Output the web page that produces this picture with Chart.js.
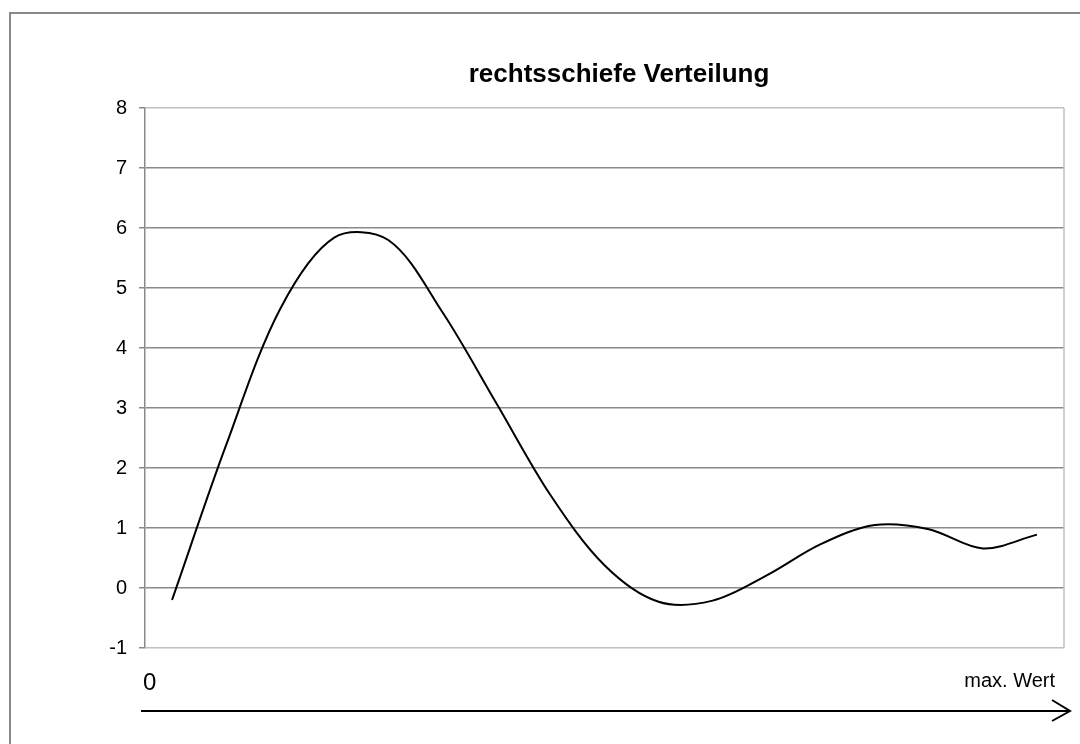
<!DOCTYPE html>
<html lang="de">
<head>
    <meta charset="UTF-8">
    <title>rechtsschiefe Verteilung</title>
    <script src="https://cdn.jsdelivr.net/npm/chart.js"></script>
    <style>
        html, body { margin: 0; padding: 0; background: #fff; overflow: hidden; }
        #rahmen {
            position: absolute; left: 9px; top: 12px;
            width: 2000px; height: 2000px;
            border-left: 2px solid #888; border-top: 2px solid #888;
        }
        #diagramm { position: absolute; left: 0; top: 0; }
    </style>
</head>
<body>

    <div id="rahmen"></div>
    <canvas id="diagramm" width="1080" height="744"></canvas>

    <script>
        // Daten
        const titel = 'rechtsschiefe Verteilung';
        const kategorien = ['1', '2', '3', '4', '5', '6', '7', '8', '9', '10', '11', '12', '13', '14', '15', '16', '17'];
        const werte = [-0.2, 2.38, 4.65, 5.84, 5.8, 4.6, 3.08, 1.55, 0.38, -0.23, -0.21, 0.21, 0.73, 1.05, 0.98, 0.66, 0.89];
        const yMin = -1;
        const yMax = 8;
        const ySchritt = 1;
        const achseStart = '0';
        const achseEnde = 'max. Wert';

        const schrift = '"Liberation Sans", Arial, sans-serif';

        // Titel, Rahmen rechts und Pfeil unter dem Diagramm
        const beschriftung = {
            id: 'beschriftung',
            afterDraw(chart) {
                const ctx = chart.ctx;
                const a = chart.chartArea;
                ctx.save();

                // rechter Rand der Zeichenfläche
                ctx.strokeStyle = '#c0c0c0';
                ctx.lineWidth = 1.5;
                ctx.beginPath();
                ctx.moveTo(a.right, a.top);
                ctx.lineTo(a.right, a.bottom);
                ctx.stroke();

                // Titel
                ctx.fillStyle = '#000';
                ctx.font = 'bold 26px ' + schrift;
                ctx.textAlign = 'center';
                ctx.textBaseline = 'alphabetic';
                ctx.fillText(titel, 619, 82);

                // "0" und "max. Wert"
                ctx.font = '24px ' + schrift;
                ctx.textAlign = 'left';
                ctx.fillText(achseStart, a.left - 2, 690);
                ctx.font = '20px ' + schrift;
                ctx.textAlign = 'right';
                ctx.fillText(achseEnde, a.right - 9, 687);

                // Pfeil
                const y = 711;
                ctx.strokeStyle = '#000';
                ctx.lineWidth = 2;
                ctx.beginPath();
                ctx.moveTo(a.left - 4, y);
                ctx.lineTo(a.right + 6, y);
                ctx.moveTo(a.right - 12, y - 11);
                ctx.lineTo(a.right + 6, y);
                ctx.lineTo(a.right - 12, y + 10);
                ctx.stroke();

                ctx.restore();
            }
        };

        const ctx = document.getElementById('diagramm').getContext('2d');
        const diagramm = new Chart(ctx, {
            type: 'line',
            data: {
                labels: kategorien,
                datasets: [{
                    data: werte,
                    borderColor: '#000',
                    borderWidth: 2,
                    pointRadius: 0,
                    tension: 0.33,
                    fill: false
                }]
            },
            options: {
                responsive: false,
                animation: false,
                layout: { padding: { top: 108, right: 16, bottom: 96, left: 0 } },
                plugins: {
                    legend: { display: false },
                    title: { display: false },
                    tooltip: { enabled: false }
                },
                scales: {
                    x: {
                        type: 'category',
                        offset: true,
                        display: false
                    },
                    y: {
                        min: yMin,
                        max: yMax,
                        afterFit: (s) => { s.width = 145; },
                        ticks: {
                            stepSize: ySchritt,
                            padding: 12,
                            color: '#000',
                            font: { family: schrift, size: 20 }
                        },
                        grid: {
                            color: (c) => (c.tick && (c.tick.value === yMin || c.tick.value === yMax)) ? '#c0c0c0' : '#8a8a8a',
                            tickColor: '#8a8a8a',
                            lineWidth: 1.5,
                            tickLength: 6
                        },
                        border: { color: '#8a8a8a', width: 1.5 }
                    }
                }
            },
            plugins: [beschriftung]
        });
    </script>

</body>
</html>
